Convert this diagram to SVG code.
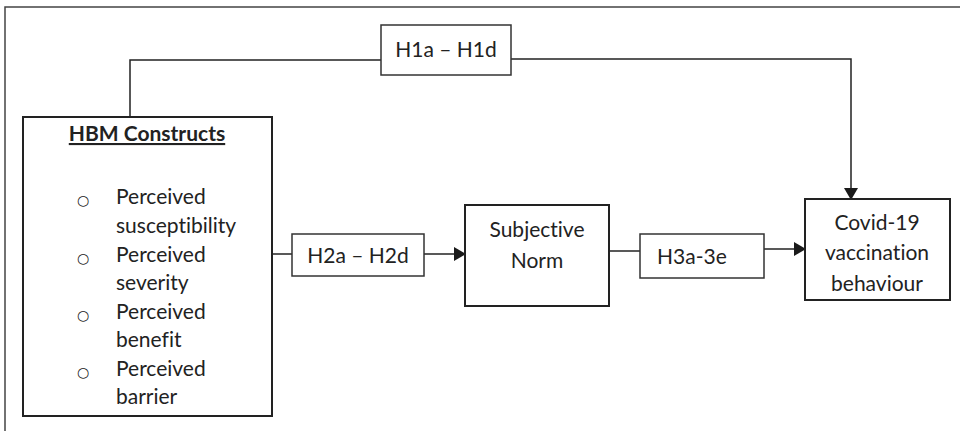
<svg xmlns="http://www.w3.org/2000/svg" width="960" height="431" viewBox="0 0 960 431">
<defs>
<marker id="arr" markerWidth="12" markerHeight="14" refX="11" refY="7" orient="auto" markerUnits="userSpaceOnUse">
<path d="M0,0 L12,7 L0,14 Z" fill="#1a1a1a"/>
</marker>
</defs>
<style>
.box{fill:#fff;stroke:#222;stroke-width:2}
.lbl{fill:#fff;stroke:#333;stroke-width:1.5}
.t{font-family:Lato,"Liberation Sans",sans-serif;font-size:21px;fill:#222;font-variant-ligatures:none}
.c{text-anchor:middle}
.b{font-family:"DejaVu Sans",sans-serif;font-size:14px;fill:#222}
.ln{fill:none;stroke:#222;stroke-width:1.5}
</style>
<rect width="960" height="431" fill="#fff"/>
<path d="M5,431 L5,7 L960,7" fill="none" stroke="#444" stroke-width="1.5"/>
<g id="connectors">
<path class="ln" d="M130,117 L130,60 L381,60" stroke-width="1.2"/>
<path class="ln" d="M511,59 L851,59 L851,199" marker-end="url(#arr)"/>
<path class="ln" d="M272,254 L292,254"/>
<path class="ln" d="M424,254 L465,254" marker-end="url(#arr)"/>
<path class="ln" d="M609,251 L640,251"/>
<path class="ln" d="M764,249 L805,249" marker-end="url(#arr)"/>
</g>
<g id="hbm">
<rect class="box" x="23" y="117" width="249" height="299"/>
<text class="t c" x="147" y="141" font-weight="bold" text-decoration="underline">HBM Constructs</text>
<g class="t">
<text class="b" x="77" y="205">○</text><text x="116" y="204">Perceived</text>
<text x="116" y="233">susceptibility</text>
<text class="b" x="77" y="263">○</text><text x="116" y="262">Perceived</text>
<text x="116" y="290">severity</text>
<text class="b" x="77" y="320">○</text><text x="116" y="319">Perceived</text>
<text x="116" y="347">benefit</text>
<text class="b" x="77" y="377">○</text><text x="116" y="376">Perceived</text>
<text x="116" y="404">barrier</text>
</g>
</g>
<g id="h1">
<rect class="lbl" x="381" y="25" width="130" height="50"/>
<text class="t c" x="446" y="57">H1a – H1d</text>
</g>
<g id="h2">
<rect class="lbl" x="292" y="234" width="132" height="42"/>
<text class="t c" x="358" y="263">H2a – H2d</text>
</g>
<g id="subjective">
<rect class="box" x="465" y="205" width="144" height="101"/>
<text class="t c" x="537" y="237">Subjective</text>
<text class="t c" x="537" y="268">Norm</text>
</g>
<g id="h3">
<rect class="lbl" x="640" y="234" width="124" height="44"/>
<text class="t" x="657" y="264">H3a-3e</text>
</g>
<g id="covid">
<rect class="box" x="805" y="199" width="145" height="101"/>
<text class="t c" x="877" y="230">Covid-19</text>
<text class="t c" x="877" y="260">vaccination</text>
<text class="t c" x="877" y="291">behaviour</text>
</g>
</svg>
